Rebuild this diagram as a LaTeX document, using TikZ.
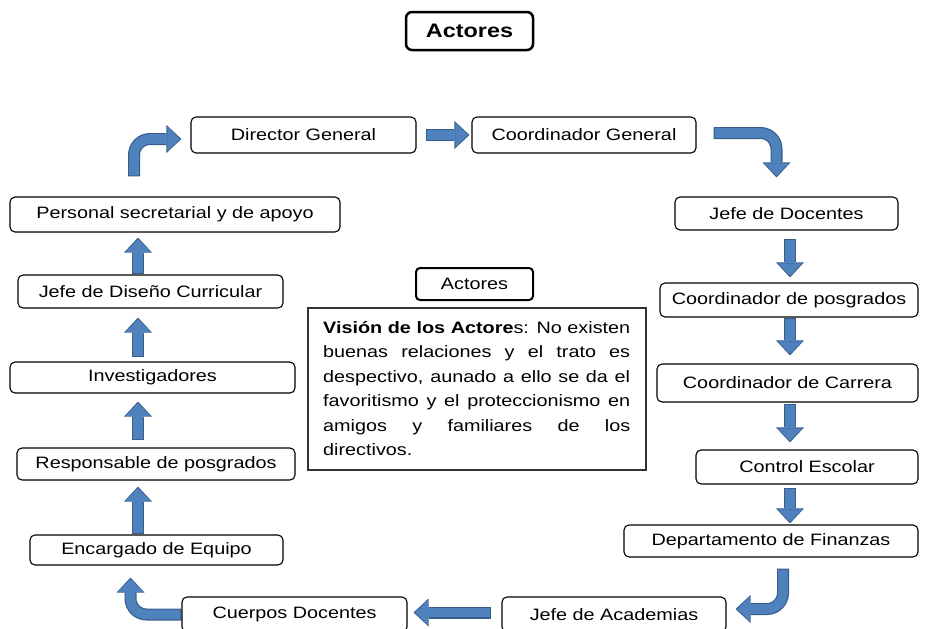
\documentclass[tikz,border=0pt]{standalone}
\usepackage{fontspec}
\setmainfont{Liberation Sans}[FakeStretch=1.2]
\usetikzlibrary{arrows.meta,calc}
\definecolor{afill}{HTML}{4F81BD}
\definecolor{aborder}{HTML}{385D8A}
\pgfdeclarelayer{arrowlayer}
\pgfsetlayers{arrowlayer,main}
\tikzset{
  box/.style={draw=black, line width=1.1pt, rounded corners=5pt, fill=white, inner sep=0pt,
    font=\fontsize{16.5}{19}\selectfont},
  bout/.style={draw=aborder, line width=12pt,
    -{Triangle[length=15pt,width=28pt,line width'=0pt]}},
  bin/.style={draw=afill, line width=9.6pt, shorten <=1.2pt, shorten >=1.6pt,
    -{Triangle[length=12.6pt,width=24.6pt,line width'=0pt]}},
}
\newcommand\blk[1]{\draw[bout] #1; \draw[bin] #1;}
\begin{document}
\begin{tikzpicture}[x=1pt,y=-1pt]
\useasboundingbox (0,0) rectangle (930,629);
\coordinate (lx) at (138,0);
\coordinate (rx) at (790,0);

% title
\node[box, line width=2.5pt, rounded corners=6pt, minimum width=127pt, minimum height=38pt,
  font=\fontsize{19.5}{22}\selectfont\bfseries] (title) at (469.5,31) {Actores};

% boxes
\node[box, minimum width=225pt, minimum height=36pt] (dg) at (303.5,135) {Director General};
\node[box, minimum width=224pt, minimum height=36pt] (cg) at (584,135) {Coordinador General};
\node[box, minimum width=223pt, minimum height=33pt] (jdd) at (786.5,213.5) {Jefe de Docentes};
\node[box, minimum width=258pt, minimum height=34pt] (cpos) at (789,300) {Coordinador de posgrados};
\node[box, minimum width=261pt, minimum height=38pt] (ccar) at (787.5,383) {Coordinador de Carrera};
\node[box, minimum width=222pt, minimum height=34pt] (ces) at (807,467) {Control Escolar};
\node[box, minimum width=294pt, minimum height=32pt] (dfin) at (771,541) {Departamento de Finanzas};
\node[box, minimum width=224pt, minimum height=35pt] (jac) at (614,614.5) {Jefe de Academias};
\node[box, minimum width=225pt, minimum height=35pt] (cd) at (294.5,614.5) {Cuerpos Docentes};
\node[box, minimum width=253pt, minimum height=30pt] (enc) at (156.5,550) {Encargado de Equipo};
\node[box, minimum width=278pt, minimum height=32pt] (resp) at (156,464) {Responsable de posgrados};
\node[box, minimum width=285pt, minimum height=31pt] (inv) at (152.5,377.5) {Investigadores};
\node[box, minimum width=265pt, minimum height=33pt] (jdc) at (150.5,291.5) {Jefe de Diseño Curricular};
\node[box, minimum width=330pt, minimum height=35pt] (psa) at (175,214.5) {Personal secretarial y de apoyo};

% centre
\node[box, line width=2pt, rounded corners=4pt, minimum width=117pt, minimum height=32pt] (act) at (474.5,284) {Actores};
\node[draw=black!80, line width=1.3pt, fill=white, minimum width=338pt, minimum height=162pt, inner sep=0pt] (vis) at (477,389) {};
\node[anchor=north west, text width=307pt, align=justify, inner sep=0pt,
  font=\fontsize{16.5}{24.5}\selectfont] (vtx) at (323,321)
  {\textbf{Visión de los Actore}s: No existen\linebreak
   buenas relaciones y el trato es\linebreak
   despectivo, aunado a ello se da el\linebreak
   favoritismo y el proteccionismo en\linebreak
   amigos y familiares de los\linebreak
   directivos.};

\begin{pgfonlayer}{arrowlayer}
% left column
\blk{(enc.north -| lx) -- ($(resp.south -| lx)+(0,6)$)}
\blk{($(resp.north -| lx)+(0,-7)$) -- ($(inv.south -| lx)+(0,8)$)}
\blk{($(inv.north -| lx)+(0,-4)$) -- ($(jdc.south -| lx)+(0,9)$)}
\blk{(jdc.north -| lx) -- ($(psa.south -| lx)+(0,5)$)}
\blk{[rounded corners=16pt] ($(psa.north)+(-41,-20)$) |- ($(dg.west)+(-9,4)$)}
% top
\blk{($(dg.east)+(9,0)$) -- ($(cg.west)+(-2,0)$)}
\blk{[rounded corners=16pt] ($(cg.east)+(17,-2)$) -| ($(jdd.north)+(-10,-19)$)}
% right column
\blk{($(jdd.south -| rx)+(0,8)$) -- ($(cpos.north -| rx)+(0,-5)$)}
\blk{(cpos.south -| rx) -- ($(ccar.north -| rx)+(0,-8)$)}
\blk{($(ccar.south -| rx)+(0,1)$) -- ($(ces.north -| rx)+(0,-7)$)}
\blk{($(ces.south -| rx)+(0,3)$) -- ($(dfin.north -| rx)+(0,-1)$)}
\blk{[rounded corners=16pt] ($(dfin.south)+(12,11)$) |- ($(jac.east)+(9,-5.5)$)}
% bottom
\blk{($(jac.west)+(-10,-2)$) -- ($(cd.east)+(6,-2)$)}
\blk{[rounded corners=16pt] (cd.west) -| ($(enc.south)+(-26,12)$)}
\end{pgfonlayer}
\end{tikzpicture}
\end{document}
